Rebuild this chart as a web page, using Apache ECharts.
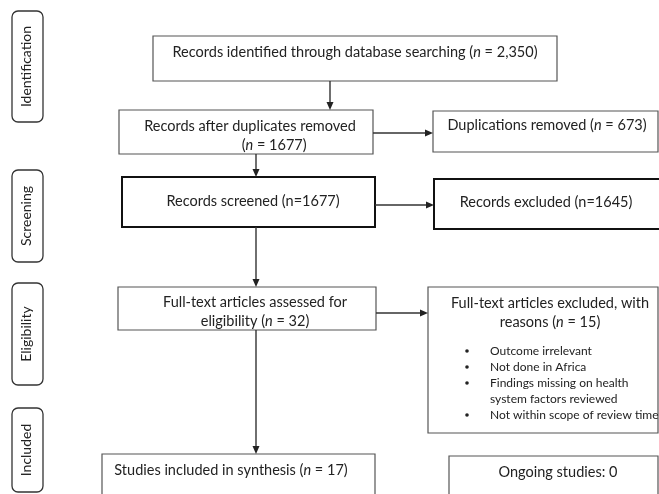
<!DOCTYPE html>
<html><head><meta charset="utf-8">
<script src="https://cdn.jsdelivr.net/npm/echarts@6/dist/echarts.min.js"></script>
<style>html,body{margin:0;padding:0;background:#fff}#c{width:659px;height:494px}</style>
</head><body><div id="c"></div>
<script>
// ---- data: texts ----
const stageNames = ['Identification', 'Screening', 'Eligibility', 'Included'];
const boxTexts = [
  ['Records identified through database searching (_n_ = 2,350)'],
  ['Records after duplicates removed', '             (_n_ = 1677)'],
  ['Duplications removed (_n_ = 673)'],
  ['Records screened (n=1677)'],
  ['Records excluded (n=1645)'],
  ['Full-text articles assessed for', 'eligibility (_n_ = 32)'],
  ['Full-text articles excluded, with', 'reasons (_n_ = 15)'],
  ['Studies included in synthesis (_n_ = 17)'],
  ['Ongoing studies: 0']
];
const exclusionReasons = [
  ['Outcome irrelevant'],
  ['Not done in Africa'],
  ['Findings missing on health', 'system factors reviewed'],
  ['Not within scope of review time']
];

// ---- layout (diagram units) ----
const stageTop = [11, 170, 283, 408];
const stageBottom = [122, 262, 385, 492];
const boxLeft   = [153, 119, 433, 122, 434, 118, 428, 102, 449];
const boxTop    = [36, 110, 111, 177, 179, 287, 287, 454, 456];
const boxRight  = [557, 373, 658, 375, 664, 376, 658, 375, 658];
const boxBottom = [81, 154, 152, 227, 229, 330, 433, 500, 500];
const boxTextX  = [355, 250, 547, 253, 546, 255, 550, 231, 558];
const boxTextY  = [52, 126, 125, 201, 202, 302, 303, 470, 472];
const boxHeavy  = [0, 0, 0, 1, 1, 0, 0, 0, 0];
const arrowFrom = [[330, 81], [373, 133], [256, 154], [375, 205], [256, 227], [376, 313], [256, 330]];
const arrowTo   = [[330, 110], [433, 133], [256, 177], [434, 205], [256, 287], [428, 313], [256, 454]];

const FONT = 'Lato, "Open Sans", sans-serif';
const LINE_H = 19;

function toRich(s) {
  const parts = s.split('_');
  return parts.map((p, i) => (i % 2 ? '{i|' + p + '}' : (p ? '{t|' + p + '}' : ''))).join('');
}
const richMain = {
  t: { fontFamily: FONT, fontSize: 14.5, fill: '#222' },
  i: { fontFamily: FONT, fontSize: 14.5, fontStyle: 'italic', fill: '#222' }
};

const chart = echarts.init(document.getElementById('c'), null, { renderer: 'canvas' });
chart.setOption({
  animation: false,
  backgroundColor: '#fff',
  grid: { left: 0, right: 0, top: 0, bottom: 0 },
  xAxis: { type: 'value', min: 0, max: 659, show: false },
  yAxis: { type: 'value', min: 0, max: 494, inverse: true, show: false },
  series: [
    {
      type: 'custom',
      clip: false,
      data: stageNames.map((n, i) => [12, stageTop[i], 43, stageBottom[i], i]),
      encode: { x: [0, 2], y: [1, 3] },
      renderItem: function (params, api) {
        const i = api.value(4);
        const p0 = api.coord([api.value(0), api.value(1)]);
        const p1 = api.coord([api.value(2), api.value(3)]);
        return {
          type: 'group',
          children: [
            { type: 'rect', shape: { x: p0[0], y: p0[1], width: p1[0] - p0[0], height: p1[1] - p0[1], r: 6 },
              style: { fill: '#fff', stroke: '#333', lineWidth: 1.3 } },
            { type: 'text', x: (p0[0] + p1[0]) / 2 - 1, y: (p0[1] + p1[1]) / 2, rotation: Math.PI / 2,
              style: { text: stageNames[i], font: '14px ' + FONT, fill: '#222', align: 'center', verticalAlign: 'middle' } }
          ]
        };
      }
    },
    {
      type: 'custom',
      clip: false,
      data: boxTexts.map((t, i) => [boxLeft[i], boxTop[i], boxRight[i], boxBottom[i], i]),
      encode: { x: [0, 2], y: [1, 3] },
      renderItem: function (params, api) {
        const i = api.value(4);
        const p0 = api.coord([api.value(0), api.value(1)]);
        const p1 = api.coord([api.value(2), api.value(3)]);
        const tp = api.coord([boxTextX[i], boxTextY[i]]);
        const heavy = boxHeavy[i];
        const children = [
          { type: 'rect', shape: { x: p0[0], y: p0[1], width: p1[0] - p0[0], height: p1[1] - p0[1] },
            style: { fill: '#fff', stroke: heavy ? '#111' : '#555', lineWidth: heavy ? 2 : 1.2 } }
        ];
        boxTexts[i].forEach((line, k) => {
          children.push({ type: 'text', x: tp[0], y: tp[1] + k * LINE_H,
            style: { text: toRich(line), rich: richMain, align: 'center', verticalAlign: 'middle' } });
        });
        if (i === 6) {
          let row = 0;
          exclusionReasons.forEach((r) => {
            const b = api.coord([467, 351 + row * 16]);
            children.push({ type: 'circle', shape: { cx: b[0], cy: b[1], r: 1.8 }, style: { fill: '#222' } });
            r.forEach((ln) => {
              const q = api.coord([490, 351 + row * 16]);
              children.push({ type: 'text', x: q[0], y: q[1],
                style: { text: ln, font: '12px ' + FONT, fill: '#222', align: 'left', verticalAlign: 'middle' } });
              row++;
            });
          });
        }
        return { type: 'group', children: children };
      }
    },
    {
      type: 'custom',
      clip: false,
      data: arrowFrom.map((f, i) => [f[0], f[1], arrowTo[i][0], arrowTo[i][1]]),
      encode: { x: [0, 2], y: [1, 3] },
      renderItem: function (params, api) {
        const a = api.coord([api.value(0), api.value(1)]);
        const b = api.coord([api.value(2), api.value(3)]);
        const dx = b[0] - a[0], dy = b[1] - a[1];
        const len = Math.sqrt(dx * dx + dy * dy);
        const ux = dx / len, uy = dy / len;
        const hl = 8, hw = 3.5;
        const base = [b[0] - ux * hl, b[1] - uy * hl];
        return {
          type: 'group',
          children: [
            { type: 'line', shape: { x1: a[0], y1: a[1], x2: base[0], y2: base[1] },
              style: { stroke: '#333', lineWidth: 1.4 } },
            { type: 'polygon', shape: { points: [b, [base[0] - uy * hw, base[1] + ux * hw], [base[0] + uy * hw, base[1] - ux * hw]] },
              style: { fill: '#222' } }
          ]
        };
      }
    }
  ]
});
</script>
</body></html>
